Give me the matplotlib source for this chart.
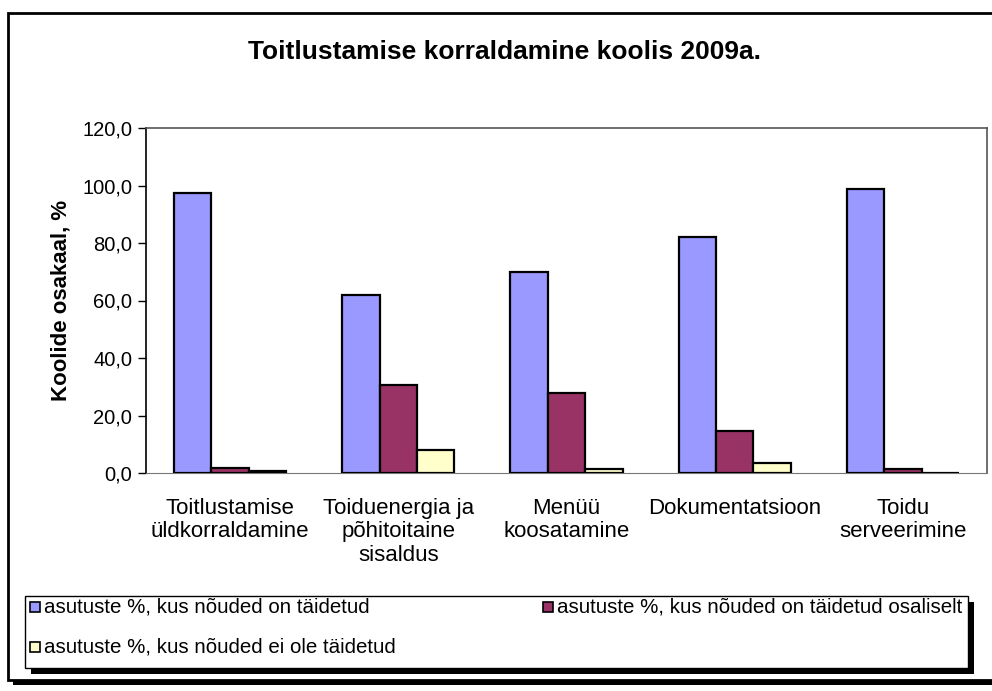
import matplotlib.pyplot as plt
from matplotlib.patches import Rectangle

plt.rcParams['font.family'] = ['Liberation Sans', 'DejaVu Sans']

categories = ["Toitlustamise\nüldkorraldamine", "Toiduenergia ja\npõhitoitaine\nsisaldus",
              "Menüü\nkoosatamine", "Dokumentatsioon", "Toidu\nserveerimine"]
taidetud = [97.4, 61.9, 70.0, 82.0, 98.7]
osaliselt = [1.9, 30.6, 27.8, 14.6, 1.3]
ei_ole = [0.8, 8.0, 1.3, 3.4, 0.0]
series_names = ["asutuste %, kus nõuded on täidetud",
                "asutuste %, kus nõuded on täidetud osaliselt",
                "asutuste %, kus nõuded ei ole täidetud"]
colors = ["#9999FF", "#993366", "#FFFFCC"]

W, H = 992, 691
fig = plt.figure(figsize=(W / 100, H / 100), dpi=100)

def fx(px):
    return px / W

def fy(py):
    return 1 - py / H

# outer chart frame with shadow
fig.patches.append(Rectangle((fx(13), fy(685)), fx(1000), fy(19) - fy(685),
                             transform=fig.transFigure, facecolor='black', edgecolor='none', zorder=0))
fig.patches.append(Rectangle((fx(8), fy(680)), fx(1000), fy(13) - fy(680),
                             transform=fig.transFigure, facecolor='white', edgecolor='black',
                             linewidth=2, zorder=1))

ax = fig.add_axes([fx(146), fy(473), fx(987) - fx(146), fy(128) - fy(473)])
ax.set_zorder(2)
ax.patch.set_facecolor('white')

w = 1 / 4.5
x = list(range(len(categories)))
for k, (vals, c) in enumerate(zip([taidetud, osaliselt, ei_ole], colors)):
    ax.bar([i + (k - 1) * w for i in x], vals, width=w, color=c, edgecolor='black',
           linewidth=1.6, zorder=3, label=series_names[k])

ax.set_xlim(-0.5, len(categories) - 0.5)
ax.set_ylim(0, 120)
ax.set_yticks(range(0, 121, 20))
ax.set_yticklabels([f"{v},0" for v in range(0, 121, 20)], fontsize=14.5)
ax.set_xticks(x)
ax.set_xticklabels(categories, fontsize=16, linespacing=1.15, va='top')
ax.tick_params(axis='x', length=0, pad=18)
ax.tick_params(axis='y', length=6, width=1, pad=4)
for s in ['top', 'right']:
    ax.spines[s].set_color('#555555')
    ax.spines[s].set_linewidth(1.2)
ax.spines['bottom'].set_color('#777777')
ax.spines['left'].set_linewidth(1.2)
ax.set_ylabel("Koolide osakaal, %", fontsize=16, fontweight='bold', labelpad=8)

fig.text(fx(505), fy(52), "Toitlustamise korraldamine koolis 2009a.", fontsize=19,
         fontweight='bold', ha='center', va='center')

# legend box with shadow
fig.patches.append(Rectangle((fx(31), fy(674)), fx(968) - fx(25), fy(596) - fy(668),
                             transform=fig.transFigure, facecolor='black', edgecolor='none', zorder=3))
fig.patches.append(Rectangle((fx(25), fy(668)), fx(968) - fx(25), fy(596) - fy(668),
                             transform=fig.transFigure, facecolor='white', edgecolor='black',
                             linewidth=1, zorder=4))
positions = [(30, 607), (543, 607), (30, 647)]
for (px, py), name, c in zip(positions, series_names, colors):
    fig.patches.append(Rectangle((fx(px), fy(py + 5)), fx(10), fy(py - 5) - fy(py + 5),
                                 transform=fig.transFigure, facecolor=c, edgecolor='black',
                                 linewidth=1.2, zorder=5))
    fig.text(fx(px + 14), fy(py), name, fontsize=14.8, ha='left', va='center', zorder=6)

fig.savefig("out.png", dpi=100)
plt.close()
